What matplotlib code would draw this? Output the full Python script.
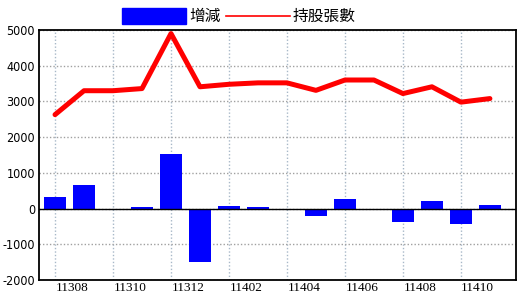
import matplotlib
matplotlib.use('Agg')
import matplotlib.pyplot as plt
from matplotlib.patches import Rectangle
from matplotlib.lines import Line2D
import numpy as np

months = ['11307', '11308', '11309', '11310', '11311', '11312',
          '11401', '11402', '11403', '11404', '11405', '11406',
          '11407', '11408', '11409', '11410']
change = [310, 650, 0, 50, 1540, -1490, 80, 30, 0, -210, 280, 0, -380, 200, -430, 90]
holdings = [2630, 3300, 3300, 3360, 4900, 3410, 3480, 3520, 3520, 3310,
            3600, 3600, 3220, 3410, 2980, 3080]
yticks = [-2000, -1000, 0, 1000, 2000, 3000, 4000, 5000]
legend_labels = ['增減', '持股張數']

W, H = 520, 300
fig = plt.figure(figsize=(W / 100, H / 100), dpi=100)
ax = fig.add_axes([38.5 / W, 20 / H, (516 - 38.5) / W, 250 / H])

x = np.arange(len(months))
ax.bar(x, change, width=0.75, color='#0000ff', zorder=2)
ax.axhline(0, color='black', lw=1, zorder=3)
ax.plot(x, holdings, color='#ff0000', lw=3.6, zorder=4,
        solid_joinstyle='round', solid_capstyle='round')

ax.set_xlim(-0.57, 15.9)
ax.set_ylim(-2000, 5000)
ax.set_yticks(yticks)
ax.set_yticklabels([str(v) for v in yticks], fontfamily='DejaVu Sans',
                   fontstretch='condensed', fontsize=9)

ax.set_xticks(x[::2])
ax.set_xticklabels([])
ax.set_xticks(x[1::2] - 0.42, minor=True)
ax.set_xticklabels(months[1::2], minor=True, fontfamily='Liberation Serif', fontsize=9.5)
ax.tick_params(which='both', length=0)
ax.tick_params(axis='y', pad=2.5)
ax.tick_params(axis='x', which='minor', pad=1.5)

ax.grid(axis='x', which='major', color='#a8b8c8', linestyle=(0, (1, 1.5)), lw=1, zorder=1)
ax.grid(axis='y', which='major', color='#a0a0a0', linestyle=(0, (1, 1.5)), lw=1, zorder=1)
ax.set_axisbelow(True)
for s in ax.spines.values():
    s.set_color('black')
    s.set_linewidth(1.3)

# legend
fig.add_artist(Rectangle((122 / W, (H - 24) / H), 64 / W, 16 / H,
                         transform=fig.transFigure, color='#0000ff'))
fig.text(189 / W, (H - 16) / H, legend_labels[0], ha='left', va='center',
         fontsize=11.3, family=['Noto Sans CJK TC', 'DejaVu Sans'])
fig.add_artist(Line2D([226 / W, 290 / W], [(H - 16) / H, (H - 16) / H],
                      transform=fig.transFigure, color='#ff0000', lw=1.2))
fig.text(293 / W, (H - 16) / H, legend_labels[1], ha='left', va='center',
         fontsize=11.3, family=['Noto Sans CJK TC', 'DejaVu Sans'])

fig.savefig('out.png', dpi=100)
